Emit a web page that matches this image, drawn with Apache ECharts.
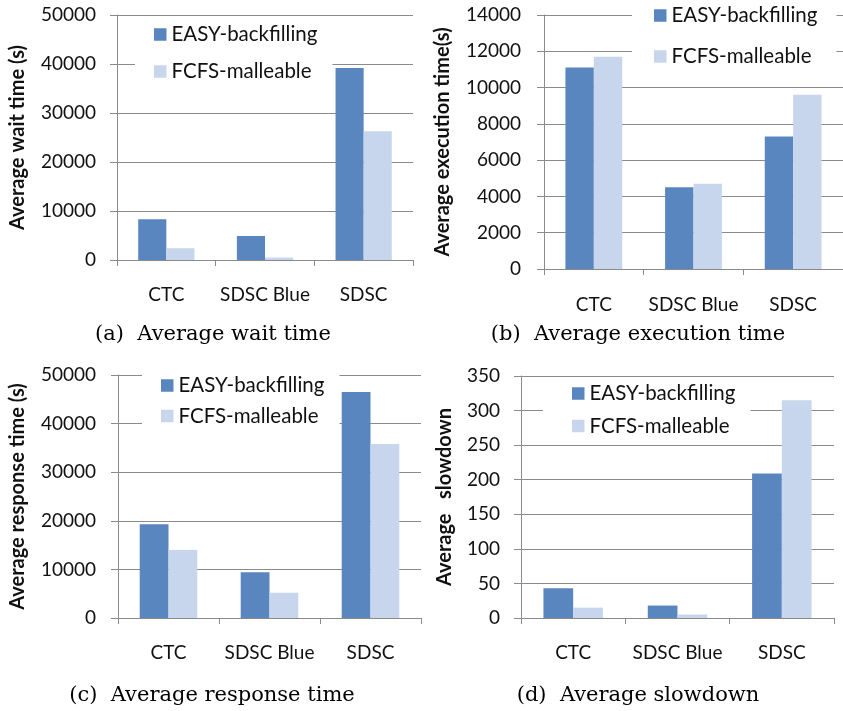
<!DOCTYPE html>
<html>
<head>
<meta charset="utf-8">
<script src="https://cdn.jsdelivr.net/npm/echarts@6/dist/echarts.min.js"></script>
<style>html,body{margin:0;padding:0;background:#fff;}#c{width:843px;height:711px;}</style>
</head>
<body>
<div id="c"></div>
<script>
const categories = ['CTC', 'SDSC Blue', 'SDSC'];
const seriesNames = ['EASY-backfilling', 'FCFS-malleable'];
const waitEasy = [8300, 4900, 39200];
const waitFcfs = [2400, 500, 26300];
const execEasy = [11100, 4500, 7300];
const execFcfs = [11700, 4700, 9600];
const respEasy = [19300, 9400, 46500];
const respFcfs = [14000, 5200, 35800];
const slowEasy = [43, 18, 209];
const slowFcfs = [15, 5, 315];

const panels = [
  {grid:{left:117, top:15, width:296, height:245}, max:50000, interval:10000, name:'Average wait time (s)', easy:waitEasy, fcfs:waitFcfs, labMargin:21, nameGap:89, catMargin:25,
   legend:{left:135, top:17, padding:[7,15,15,19], itemGap:16}, sub:'(a)  Average wait time', subX:213, subY:335},
  {grid:{left:544, top:15, width:301, height:254}, max:14000, interval:2000, name:'Average execution time(s)', easy:execEasy, fcfs:execFcfs, labMargin:23, nameGap:91, catMargin:26,
   legend:{left:632, top:0, padding:[5,19,6,22], itemGap:20}, sub:'(b)  Average execution time', subX:638, subY:335},
  {grid:{left:118, top:375, width:303, height:243}, max:50000, interval:10000, name:'Average response time (s)', easy:respEasy, fcfs:respFcfs, labMargin:22, nameGap:90, catMargin:25,
   legend:{left:142, top:369, padding:[6,15,7,19], itemGap:9.5}, sub:'(c)  Average response time', subX:212, subY:696},
  {grid:{left:521, top:376, width:313, height:242}, max:350, interval:50, name:'Average   slowdown', easy:slowEasy, fcfs:slowFcfs, labMargin:21, nameGap:66, catMargin:25,
   legend:{left:543, top:378, padding:[5,15,6,29], itemGap:11.5}, sub:'(d)  Average slowdown', subX:638, subY:696}
];

const gray = '#8a8a8a';
const txt = '#111';
const font = 'Lato';
const option = {
  animation:false,
  grid:[], xAxis:[], yAxis:[], series:[], legend:[], graphic:[]
};
panels.forEach((p, i) => {
  option.grid.push(Object.assign({containLabel:false}, p.grid));
  option.xAxis.push({
    type:'category', gridIndex:i, data:categories,
    axisLine:{lineStyle:{color:gray, width:1}},
    axisTick:{show:true, length:6, lineStyle:{color:gray}},
    axisLabel:{color:txt, fontFamily:font, fontSize:19, margin:p.catMargin, interval:0}
  });
  option.yAxis.push({
    type:'value', gridIndex:i, min:0, max:p.max, interval:p.interval,
    name:p.name, nameLocation:'middle', nameRotate:90, nameGap:p.nameGap,
    nameTextStyle:{color:txt, fontFamily:font, fontWeight:'bold', fontSize:20},
    axisLine:{show:true, lineStyle:{color:gray, width:1}},
    axisTick:{show:true, length:7, lineStyle:{color:gray}},
    splitLine:{lineStyle:{color:gray, width:1}},
    axisLabel:{color:txt, fontFamily:font, fontSize:19, margin:p.labMargin, formatter:v => String(v)}
  });
  option.series.push({
    type:'bar', name:seriesNames[0], xAxisIndex:i, yAxisIndex:i, data:p.easy,
    barGap:'0%', barCategoryGap:'43%', itemStyle:{color:'#5a86c0'}
  });
  option.series.push({
    type:'bar', name:seriesNames[1], xAxisIndex:i, yAxisIndex:i, data:p.fcfs,
    barGap:'0%', barCategoryGap:'43%', itemStyle:{color:'#c7d6ec'}
  });
  option.legend.push({
    orient:'vertical', left:p.legend.left, top:p.legend.top, padding:p.legend.padding,
    itemGap:p.legend.itemGap, itemWidth:12.5, itemHeight:12.5, icon:'rect',
    backgroundColor:'#fff', data:seriesNames,
    textStyle:{color:txt, fontFamily:font, fontSize:20.5}
  });
  option.graphic.push({
    type:'text', x:p.subX, y:p.subY,
    style:{text:p.sub, fill:'#000', font:'21px "DejaVu Serif"', textAlign:'center', textVerticalAlign:'middle'}
  });
});
const chart = echarts.init(document.getElementById('c'), null, {renderer:'canvas'});
chart.setOption(option);
</script>
</body>
</html>
